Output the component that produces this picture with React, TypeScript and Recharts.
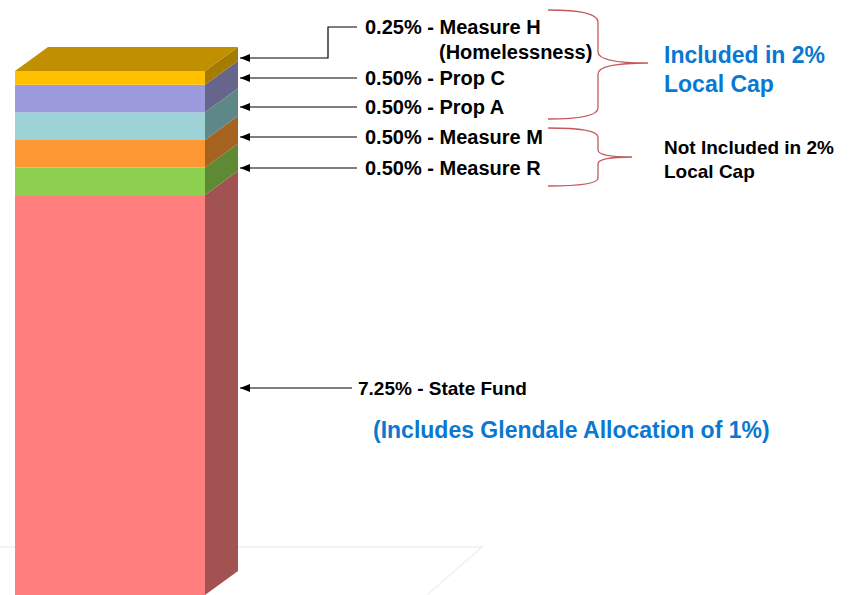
import { Bar, BarChart, XAxis, YAxis } from "recharts";

const segmentNames = ["State Fund", "Measure R", "Measure M", "Prop A", "Prop C", "Measure H"];
const segmentKeys = ["stateFund", "measureR", "measureM", "propA", "propC", "measureH"];
const segmentValues = [7.25, 0.5, 0.5, 0.5, 0.5, 0.25];
const frontColors = ["#FF7F7F", "#8ED150", "#FD9733", "#9DD3D6", "#9B9BDE", "#FFC000"];
const sideColors = ["#A35252", "#5E8A35", "#A66220", "#5E8888", "#66668C", "#A67C00"];
const topColor = "#C09000";

const row: Record<string, string | number> = { name: "Sales Tax" };
segmentKeys.forEach((k, i) => {
  row[k] = segmentValues[i];
});
const data = [row];

const DX = 33;
const DY = 24;
const font = "'Liberation Sans', Arial, sans-serif";
const blue = "#0A78D0";
const braceColor = "#C4595A";

function Segment3D(props: any) {
  const { x, y, width, height, fill, side, top } = props;
  const r = x + width;
  return (
    <g>
      <rect x={x} y={y} width={width} height={height} fill={fill} />
      <polygon
        points={`${r},${y} ${r + DX},${y - DY} ${r + DX},${y + height - DY} ${r},${y + height}`}
        fill={side}
      />
      {top && (
        <polygon points={`${x},${y} ${x + DX},${y - DY} ${r + DX},${y - DY} ${r},${y}`} fill={topColor} />
      )}
    </g>
  );
}

const label = (i: number) => `${segmentValues[i].toFixed(2)}% - ${segmentNames[i]}`;

const overlay = { position: "absolute" as const, left: 0, top: 0, pointerEvents: "none" as const };

function Floor() {
  return (
    <svg width={863} height={595} style={overlay}>
      <polyline points="0,547 482,547 427,595" fill="none" stroke="#F0F0F0" strokeWidth={1.5} />
    </svg>
  );
}

function Annotations() {
  // arrow y positions for the labelled layers, top to bottom
  const rows = [
    { i: 4, y: 78 },
    { i: 3, y: 107 },
    { i: 2, y: 137 },
    { i: 1, y: 168 },
  ];
  const tipX = 240;
  const textX = 365;
  return (
    <svg width={863} height={595} style={overlay}>
      <defs>
        <marker id="ah" markerWidth="10" markerHeight="8" refX="0" refY="4" orient="auto" markerUnits="userSpaceOnUse">
          <path d="M0,4 L10,0 L10,8 Z" fill="#000" />
        </marker>
      </defs>

      <polyline points={`${tipX},58 328,58 328,27 357,27`} fill="none" stroke="#000" strokeWidth={1.2} markerStart="url(#ah)" />
      <text x={textX} y={27} fontFamily={font} fontWeight="bold" fontSize={20} dominantBaseline="central" fill="#000">
        {label(5)}
      </text>
      <text x={439} y={52} fontFamily={font} fontWeight="bold" fontSize={20} dominantBaseline="central" fill="#000">
        (Homelessness)
      </text>
      {rows.map((r) => (
        <g key={r.i}>
          <line x1={tipX} y1={r.y} x2={357} y2={r.y} stroke="#000" strokeWidth={1.2} markerStart="url(#ah)" />
          <text x={textX} y={r.y} fontFamily={font} fontWeight="bold" fontSize={20} dominantBaseline="central" fill="#000">
            {label(r.i)}
          </text>
        </g>
      ))}
      <line x1={tipX} y1={388} x2={352} y2={388} stroke="#000" strokeWidth={1.2} markerStart="url(#ah)" />
      <text x={358} y={388} fontFamily={font} fontWeight="bold" fontSize={19} dominantBaseline="central" fill="#000">
        {label(0)}
      </text>
      <text x={373} y={430} fontFamily={font} fontWeight="bold" fontSize={23} dominantBaseline="central" fill={blue}>
        (Includes Glendale Allocation of 1%)
      </text>

      {/* braces */}
      <path
        d="M548,10 Q598,10 598,22 L598,52 Q598,63 648,63 Q598,63 598,74 L598,108 Q598,119 548,119"
        fill="none"
        stroke={braceColor}
        strokeWidth={1.3}
      />
      <path
        d="M548,128 Q598,128 598,137 L598,150 Q598,157 632,157 Q598,157 598,164 L598,178 Q598,186 548,186"
        fill="none"
        stroke={braceColor}
        strokeWidth={1.3}
      />
      <text x={664} y={55} fontFamily={font} fontWeight="bold" fontSize={23} dominantBaseline="central" fill={blue}>
        Included in 2%
      </text>
      <text x={664} y={84} fontFamily={font} fontWeight="bold" fontSize={23} dominantBaseline="central" fill={blue}>
        Local Cap
      </text>
      <text x={664} y={147} fontFamily={font} fontWeight="bold" fontSize={19} dominantBaseline="central" fill="#000">
        Not Included in 2%
      </text>
      <text x={664} y={171} fontFamily={font} fontWeight="bold" fontSize={19} dominantBaseline="central" fill="#000">
        Local Cap
      </text>
    </svg>
  );
}

export default function App() {
  const last = segmentKeys.length - 1;
  return (
    <div style={{ position: "absolute", left: 0, top: 0, width: 863, height: 595, background: "#fff", overflow: "hidden" }}>
      <Floor />
      <div style={{ position: "absolute", left: 0, top: 0 }}>
        <BarChart
          width={863}
          height={595}
          data={data}
          margin={{ top: 71, right: 658, left: 15, bottom: 0 }}
          barCategoryGap={0}
        >
          <XAxis dataKey="name" hide />
          <YAxis hide domain={[0, 9.5]} />
          {segmentKeys.map((k, i) => (
            <Bar
              key={k}
              dataKey={k}
              stackId="tax"
              fill={frontColors[i]}
              isAnimationActive={false}
              shape={(p: any) => <Segment3D {...p} side={sideColors[i]} top={i === last} />}
            />
          ))}
        </BarChart>
      </div>
      <Annotations />
    </div>
  );
}
